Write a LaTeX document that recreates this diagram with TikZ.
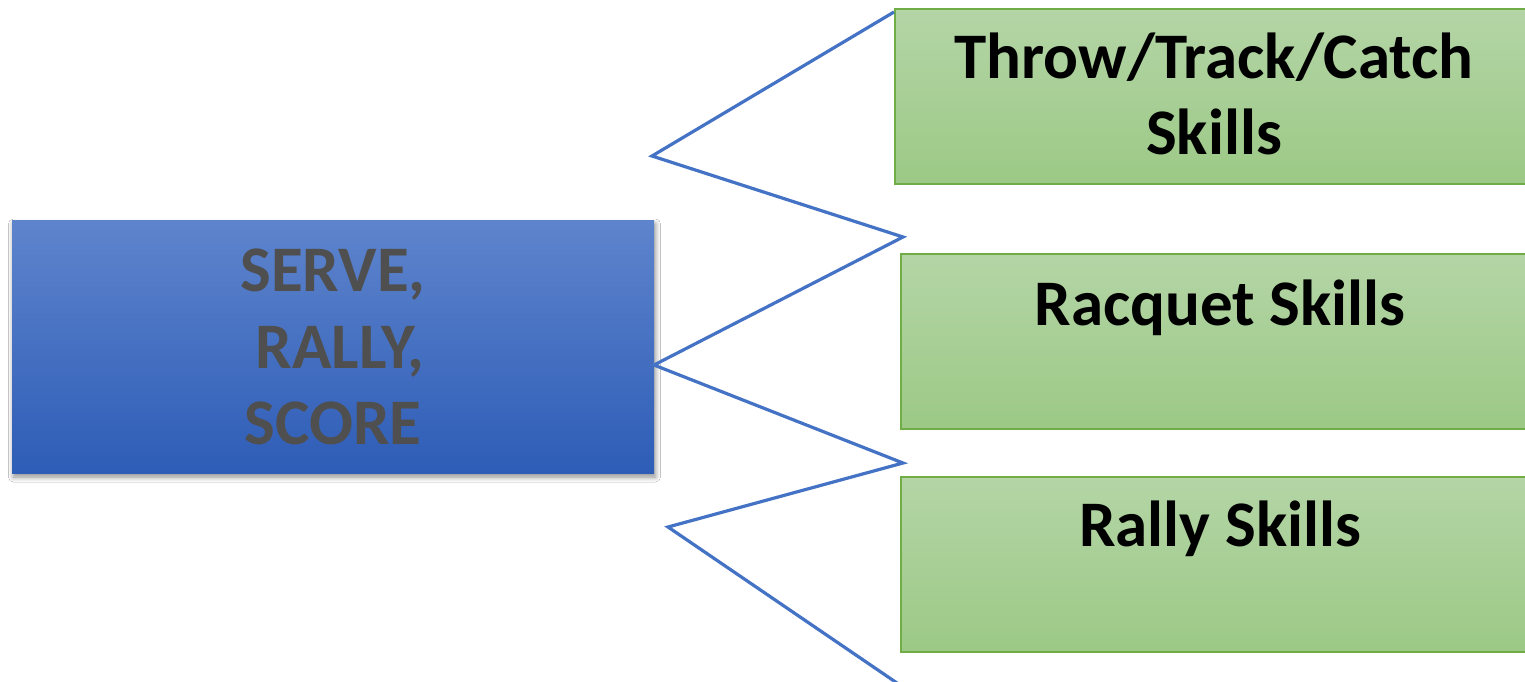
\documentclass[tikz,border=0pt]{standalone}
\usepackage{fontspec}
\setmainfont{Carlito}
\usetikzlibrary{shadows.blur}
\definecolor{lineblue}{HTML}{4472C4}
\definecolor{bluetop}{HTML}{5E84CC}
\definecolor{bluebot}{HTML}{2E5DB7}
\definecolor{greentop}{HTML}{B4D5A6}
\definecolor{greenbot}{HTML}{9CC986}
\definecolor{greenedge}{HTML}{70AD47}
\definecolor{greytext}{HTML}{4F4F4F}
\tikzset{
  bluebox/.style={rectangle, inner sep=0pt, top color=bluetop, bottom color=bluebot, draw=none,
    blur shadow={shadow xshift=1.5pt, shadow yshift=-4pt, shadow blur steps=8, shadow blur radius=5pt, shadow opacity=45}},
  greenbox/.style={rectangle, inner sep=0pt, top color=greentop, bottom color=greenbot, draw=greenedge, line width=2pt},
  lbl/.style={font=\fontsize{65}{78}\selectfont\bfseries, inner sep=0pt, anchor=base},
  zig/.style={draw=lineblue, line width=3.2pt, line join=miter},
}
\begin{document}
\begin{tikzpicture}[x=1pt,y=-1pt]
\useasboundingbox (0,0) rectangle (1525,681);
\clip (0,0) rectangle (1525,681);
\fill[white] (0,0) rectangle (1525,681);
% central box
\node[bluebox, minimum width=642pt, minimum height=253pt] (serve) at (333,346.5) {};
\node[lbl, text=greytext] (s1) at (333,291) {SERVE,};
\node[lbl, text=greytext] (s2) at (340,368) {RALLY,};
\node[lbl, text=greytext] (s3) at (333,444) {SCORE};
% green boxes
\node[greenbox, minimum width=660pt, minimum height=175pt, anchor=north west] (ttc) at (894,8) {};
\node[greenbox, minimum width=660pt, minimum height=175pt, anchor=north west] (racq) at (900,253) {};
\node[greenbox, minimum width=660pt, minimum height=175pt, anchor=north west] (rally) at (900,476) {};
\node[lbl] (t1) at (1214,78) {Throw/Track/Catch};
\node[lbl] (t2) at (1214,154) {Skills};
\node[lbl] (t3) at (1220,325) {Racquet Skills};
\node[lbl] (t4) at (1220,546) {Rally Skills};
% zigzag
\coordinate (z0) at (894,12);
\coordinate (z1) at (652,156);
\coordinate (z2) at (903,237);
\coordinate (z3) at (654,365);
\coordinate (z4) at (903,463);
\coordinate (z5) at (668,527);
\coordinate (z6) at (897,683);
\draw[zig] (z0) -- (z1) -- (z2) -- (z3) -- (z4) -- (z5) -- (z6);
\end{tikzpicture}
\end{document}
